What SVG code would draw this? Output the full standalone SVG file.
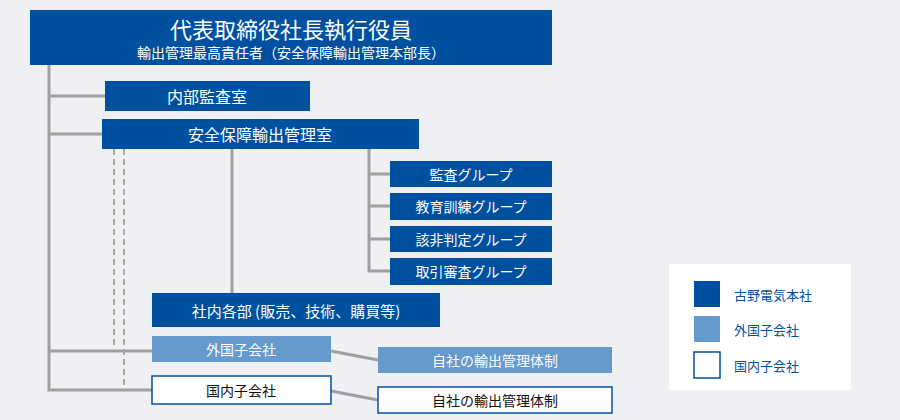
<svg xmlns="http://www.w3.org/2000/svg" width="900" height="420" viewBox="0 0 900 420">
<style>
text{font-family:"Noto Sans CJK JP","Noto Sans",sans-serif;text-anchor:middle;dominant-baseline:central}
.d{fill:#0050a0}.l{fill:#6699cc}.w{fill:#fff;stroke:#0050a0;stroke-width:1.5}
.tw{fill:#fff}.tk{fill:#111}.tb{fill:#0050a0;text-anchor:start}
.c{stroke:#a0a0a0;stroke-width:3;fill:none}.dash{stroke:#a8a8a8;stroke-width:2;stroke-dasharray:6,4;fill:none}
</style>
<rect width="900" height="420" fill="#eef0f3"/>
<g id="connectors">
<path class="c" d="M49 65V390H152M49 96H105M49 134H102M49 351H152"/>
<path class="dash" d="M114 149V348M124 149V388"/>
<path class="c" d="M232 149V293M369 149V271H390M369 174H390M369 206H390M369 239H390"/>
<path class="c" d="M331 351L378 360M331 391L378 400"/>
</g>
<g id="ceo"><rect class="d" x="30" y="10" width="522" height="55"/>
<text class="tw" x="291" y="28" font-size="22">代表取締役社長執行役員</text>
<text class="tw" x="291" y="52" font-size="14">輸出管理最高責任者（安全保障輸出管理本部長）</text></g>
<g id="audit"><rect class="d" x="105" y="81" width="205" height="30"/><text class="tw" x="207" y="96" font-size="16">内部監査室</text></g>
<g id="security"><rect class="d" x="102" y="119" width="317" height="30"/><text class="tw" x="260" y="134" font-size="16">安全保障輸出管理室</text></g>
<g id="g1"><rect class="d" x="390" y="161" width="162" height="26"/><text class="tw" x="471" y="174" font-size="14">監査グループ</text></g>
<g id="g2"><rect class="d" x="390" y="193" width="162" height="27"/><text class="tw" x="471" y="206" font-size="14">教育訓練グループ</text></g>
<g id="g3"><rect class="d" x="390" y="226" width="162" height="26"/><text class="tw" x="471" y="239" font-size="14">該非判定グループ</text></g>
<g id="g4"><rect class="d" x="390" y="258" width="162" height="27"/><text class="tw" x="471" y="271" font-size="14">取引審査グループ</text></g>
<g id="depts"><rect class="d" x="152" y="293" width="288" height="34"/><text class="tw" x="296" y="310" font-size="15">社内各部 (販売、技術、購買等)</text></g>
<g id="foreign"><rect class="l" x="152" y="336" width="179" height="26"/><text class="tw" x="241" y="349" font-size="14">外国子会社</text></g>
<g id="domestic"><rect class="w" x="152" y="376" width="179" height="28"/><text class="tk" x="241" y="390" font-size="14">国内子会社</text></g>
<g id="fsys"><rect class="l" x="378" y="347" width="234" height="26"/><text class="tw" x="495" y="360" font-size="14">自社の輸出管理体制</text></g>
<g id="dsys"><rect class="w" x="378" y="387" width="234" height="26"/><text class="tk" x="495" y="400" font-size="14">自社の輸出管理体制</text></g>
<g id="legend"><rect x="669" y="264" width="182" height="126" fill="#fff"/>
<rect class="d" x="694" y="281" width="26" height="26"/><text class="tb" x="734" y="294" font-size="13">古野電気本社</text>
<rect class="l" x="694" y="316" width="26" height="26"/><text class="tb" x="734" y="329" font-size="13">外国子会社</text>
<rect class="w" x="694" y="352" width="26" height="26"/><text class="tb" x="734" y="365" font-size="13">国内子会社</text></g>
</svg>
